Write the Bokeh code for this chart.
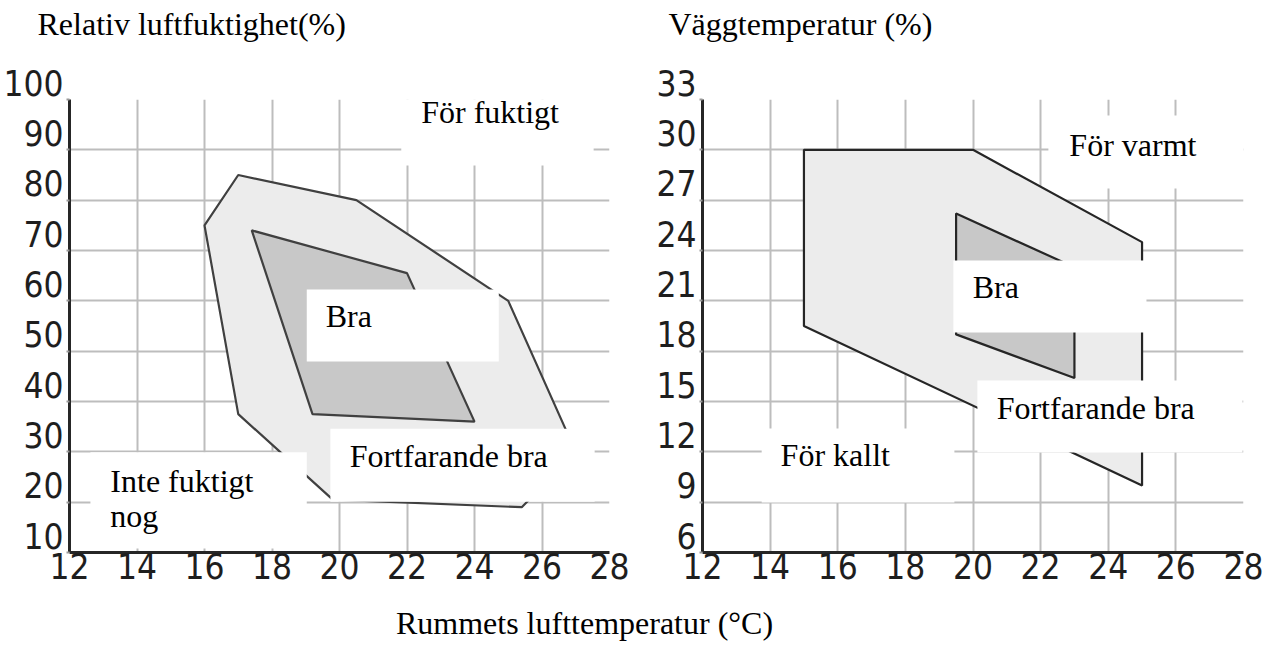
from bokeh.plotting import figure
from bokeh.models import FixedTicker, Label, BoxAnnotation, Range1d
from bokeh.layouts import row, column
from bokeh.embed import file_html
from bokeh.resources import INLINE

# ---------------- data ----------------
temp_ticks = [12, 14, 16, 18, 20, 22, 24, 26, 28]
rh_ticks = [10, 20, 30, 40, 50, 60, 70, 80, 90, 100]
wall_ticks = [6, 9, 12, 15, 18, 21, 24, 27, 30, 33]

# Relative humidity chart: "Fortfarande bra" (outer) and "Bra" (inner) zones
rh_outer_temp = [16, 17, 20.5, 25, 27, 25.4, 19.8, 17]
rh_outer_rh = [75, 85, 80, 60, 30, 19, 20.5, 37.5]
rh_inner_temp = [17.4, 22, 24, 19.2]
rh_inner_rh = [74, 65.5, 36, 37.5]

# Wall temperature chart
wall_outer_temp = [15, 20, 25, 25, 15]
wall_outer_wall = [30, 30, 24.5, 10, 19.5]
wall_inner_temp = [19.5, 23, 23, 19.5]
wall_inner_wall = [26.2, 23, 16.4, 19.0]

# zone label texts
left_texts = ["För fuktigt", "Bra", "Fortfarande bra", "Inte fuktigt", "nog"]
right_texts = ["För varmt", "Bra", "Fortfarande bra", "För kallt"]

title_left = "Relativ luftfuktighet(%)"
title_right = "Väggtemperatur (%)"
caption = "Rummets lufttemperatur (°C)"

# ---------------- layout / style ----------------
# label anchor positions (data units, left edge / text baseline)
left_text_pos = [(22.42, 97.6), (19.59, 56.9), (20.30, 29.1), (13.21, 24.3), (13.21, 17.2)]
right_text_pos = [(22.85, 30.26), (19.99, 21.80), (20.70, 14.59), (14.31, 11.79)]
# white boxes behind labels (left, right, bottom, top) in data units
left_boxes = [(21.83, 27.53, 86.9, 106.4), (19.03, 24.72, 47.95, 62.25),
              (19.73, 27.56, 20.1, 34.6), (12.62, 19.03, 10.8, 29.9)]
right_boxes = [(22.23, 28.0, 27.69, 32.04), (19.42, 25.13, 19.11, 23.40),
               (20.13, 27.97, 11.96, 16.25), (13.75, 19.45, 8.98, 13.39)]

SERIF = "Liberation Serif"
TICKFONT = "DejaVu Sans Condensed, Roboto, sans-serif"
SERIF_SIZE = "32px"
GRID = "#bdbdbd"
OUTER_FILL = "#ececec"
INNER_FILL = "#c8c8c8"
TOTAL_W = 1273
TOP_H = 62
BOTTOM_H = 48


def text_strip(height, items):
    s = figure(width=TOTAL_W, height=height, x_range=Range1d(0, TOTAL_W), y_range=Range1d(0, height),
               output_backend="svg", toolbar_location=None,
               x_axis_location=None, y_axis_location=None, min_border=0)
    s.grid.visible = False
    s.outline_line_color = None
    for txt, x, y, align in items:
        s.add_layout(Label(x=x, y=y, text=txt, text_font=SERIF, text_font_size=SERIF_SIZE,
                           text_color="black", text_align=align, text_baseline="alphabetic"))
    return s


def make_panel(width, left_border, y_lo, y_hi, y_ticks,
               outer, inner, line_color, texts, text_pos, boxes):
    p = figure(width=width, height=596 - TOP_H, x_range=Range1d(12, 28), y_range=Range1d(y_lo, y_hi),
               output_backend="svg", toolbar_location=None,
               min_border_left=left_border, min_border_right=30,
               min_border_top=99 - TOP_H, min_border_bottom=44)
    p.background_fill_color = "white"
    p.border_fill_color = "white"
    p.outline_line_color = None

    p.xaxis.ticker = FixedTicker(ticks=temp_ticks)
    p.yaxis.ticker = FixedTicker(ticks=y_ticks)
    for ax in (p.xaxis, p.yaxis):
        ax.axis_line_color = "#262626"
        ax.axis_line_width = 3
        ax.major_tick_line_color = "#999999"
        ax.major_tick_line_width = 2
        ax.major_tick_in = 0
        ax.minor_tick_line_color = None
        ax.major_label_text_font = TICKFONT
        ax.major_label_text_font_size = "35px"
        ax.major_label_text_color = "#1e1e1e"
    p.yaxis.major_tick_out = 3
    p.yaxis.major_label_standoff = 3
    # labels sit just above their grid line, as in the original
    p.yaxis.major_label_overrides = {t: f"{t}\n" for t in y_ticks}
    p.yaxis.major_label_text_line_height = 0.8
    p.xaxis.major_tick_out = 0
    p.xaxis.major_label_standoff = 0

    p.grid.grid_line_color = GRID
    p.grid.grid_line_width = 2

    p.patch(outer[0], outer[1], fill_color=OUTER_FILL, line_color=line_color, line_width=2.2)
    p.patch(inner[0], inner[1], fill_color=INNER_FILL, line_color=line_color, line_width=2.2)

    for (l, r, b, t) in boxes:
        p.add_layout(BoxAnnotation(left=l, right=r, bottom=b, top=t, fill_color="white",
                                   fill_alpha=1.0, line_alpha=0))
    for txt, (x, y) in zip(texts, text_pos):
        p.add_layout(Label(x=x, y=y, text=txt, text_font=SERIF, text_font_size=SERIF_SIZE,
                           text_color="black", text_align="left", text_baseline="alphabetic"))
    return p


p1 = make_panel(639, 67, 10, 100, rh_ticks,
                (rh_outer_temp, rh_outer_rh), (rh_inner_temp, rh_inner_rh), "#404040",
                left_texts, left_text_pos, left_boxes)
p2 = make_panel(634, 63, 6, 33, wall_ticks,
                (wall_outer_temp, wall_outer_wall), (wall_inner_temp, wall_inner_wall), "#262626",
                right_texts, right_text_pos, right_boxes)

top = text_strip(TOP_H, [(title_left, 37, TOP_H - 23, "left"),
                         (title_right, 668, TOP_H - 23, "left")])
bottom = text_strip(BOTTOM_H, [(caption, 584, BOTTOM_H - 26, "center")])

layout = column(top, row(p1, p2), bottom)
open("out.html", "w").write(file_html(layout, INLINE))
